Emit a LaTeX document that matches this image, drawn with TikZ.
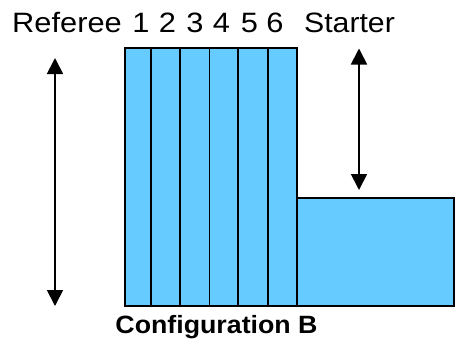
\documentclass[tikz,border=0pt]{standalone}
\usepackage{fontspec}
\setmainfont{Liberation Sans}
\usetikzlibrary{arrows.meta}
\definecolor{lanefill}{RGB}{102,204,255}
\begin{document}
\begin{tikzpicture}[x=1pt,y=-1pt,
  lane/.style={draw=black,fill=lanefill,line width=1.6pt},
  dim/.style={line width=1.8pt,{Triangle[width=16pt,length=16pt]}-{Triangle[width=16pt,length=16pt]}},
  toplabel/.style={anchor=base,inner sep=0pt,font=\fontsize{28}{31}\selectfont},
  caption/.style={anchor=base,inner sep=0pt,font=\fontsize{25}{28}\selectfont\bfseries}]
\useasboundingbox (0,0) rectangle (457,349);
% lanes
\draw[lane] (125,48) rectangle (151,306);
\draw[lane] (151,48) rectangle (180,306);
\draw[lane] (180,48) rectangle (209.5,306);
\draw[lane] (209.5,48) rectangle (238,306);
\draw[lane] (238,48) rectangle (268,306);
\draw[lane] (268,48) rectangle (297,306);
\draw[lane] (297,198) rectangle (454,306);
% labels
\node[toplabel] (referee) at (67,32.5) {\scalebox{1.1}[1]{Referee}};
\node[toplabel] (n1) at (141,32.5) {\scalebox{1.1}[1]{1}};
\node[toplabel] (n2) at (167.5,32.5) {\scalebox{1.1}[1]{2}};
\node[toplabel] (n3) at (195,32.5) {\scalebox{1.1}[1]{3}};
\node[toplabel] (n4) at (221.5,32.5) {\scalebox{1.1}[1]{4}};
\node[toplabel] (n5) at (249.5,32.5) {\scalebox{1.1}[1]{5}};
\node[toplabel] (n6) at (275,32.5) {\scalebox{1.1}[1]{6}};
\node[toplabel] (starter) at (349.5,32.5) {\scalebox{1.08}[1]{Starter}};
\node[caption] (cfg) at (216.5,333) {\scalebox{1.07}[1]{Configuration B}};
% arrows
\coordinate (la) at (55,58);
\coordinate (lb) at (55,306);
\coordinate (ra) at (359,48.5);
\coordinate (rb) at (359,190);
\draw[dim] (la) -- (lb);
\draw[dim] (ra) -- (rb);
\end{tikzpicture}
\end{document}
